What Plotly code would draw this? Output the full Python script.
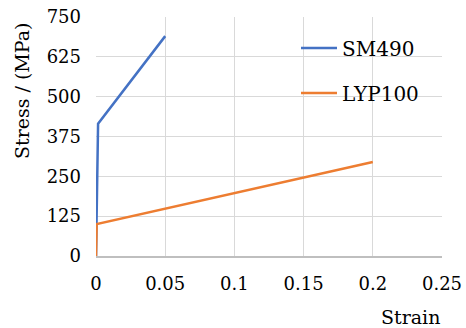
import plotly.graph_objects as go

# Stress-strain curves (bilinear models)
sm490_strain = [0.0, 0.0015, 0.05]
sm490_stress = [0, 415, 690]
lyp100_strain = [0.0, 0.0005, 0.2]
lyp100_stress = [0, 100, 295]

x_ticks = [0, 0.05, 0.1, 0.15, 0.2, 0.25]
x_tick_labels = ["0", "0.05", "0.1", "0.15", "0.2", "0.25"]
y_ticks = [0, 125, 250, 375, 500, 625, 750]

FONT = "DejaVu Serif"

W, H = 466, 328
L, R, T, B = 96, 24, 17, 72
PW, PH = W - L - R, H - T - B


def px_x(px):
    return (px - L) / PW


def px_y(py):
    return (H - B - py) / PH


fig = go.Figure()
fig.add_trace(go.Scatter(x=sm490_strain, y=sm490_stress, mode="lines", name="SM490",
                         line=dict(color="#4472C4", width=2.5), legendgroup="a"))
fig.add_trace(go.Scatter(x=lyp100_strain, y=lyp100_stress, mode="lines", name="LYP100",
                         line=dict(color="#ED7D31", width=2.5), legendgroup="b"))

fig.update_layout(
    width=W, height=H,
    margin=dict(l=L, r=R, t=T, b=B, autoexpand=False),
    paper_bgcolor="white", plot_bgcolor="white",
    font=dict(family=FONT, size=18, color="black"),
    showlegend=True,
    legend=dict(x=px_x(296), y=px_y(28.5), xanchor="left", yanchor="top",
                bgcolor="rgba(0,0,0,0)", font=dict(size=20, family=FONT, color="black"),
                traceorder="grouped", tracegroupgap=16, itemwidth=36),
    xaxis=dict(range=[0, 0.25], tickvals=x_ticks, ticktext=x_tick_labels,
               showgrid=True, gridcolor="#d9d9d9", gridwidth=1.3,
               zeroline=False, showline=True, linecolor="#bfbfbf", linewidth=1.5,
               ticks="", ticklabelstandoff=11, tickfont=dict(size=18, family=FONT)),
    yaxis=dict(range=[0, 750], tickvals=y_ticks,
               showgrid=True, gridcolor="#d9d9d9", gridwidth=1.3,
               zeroline=False, showline=False, ticks="", ticklabelstandoff=14,
               tickfont=dict(size=18, family=FONT)),
    annotations=[
        dict(text="Strain", x=px_x(410), y=px_y(317), xref="paper", yref="paper",
             xanchor="center", yanchor="middle", showarrow=False,
             font=dict(size=19, family=FONT)),
        dict(text="Stress / (MPa)", textangle=-90, x=px_x(22), y=px_y(91),
             xref="paper", yref="paper", xanchor="center", yanchor="middle",
             showarrow=False, font=dict(size=19, family=FONT)),
    ],
)

fig.write_html("out.html")
